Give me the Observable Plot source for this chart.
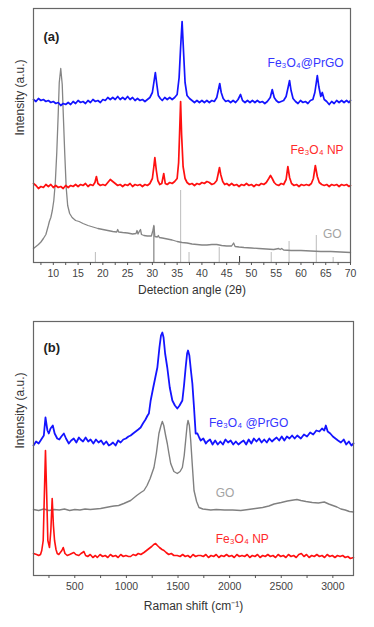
<!DOCTYPE html>
<html>
<head>
<meta charset="utf-8">
<script src="https://cdn.jsdelivr.net/npm/d3@7"></script>
<script src="https://cdn.jsdelivr.net/npm/@observablehq/plot@0.6"></script>
<style>
  html, body { margin: 0; padding: 0; background: #fff; }
  #wrap { position: relative; width: 374px; height: 627px; overflow: hidden; background: #fff; }
  #pa { position: absolute; left: 0; top: 0; }
  #pb { position: absolute; left: 0; top: 300px; }
</style>
</head>
<body>
<div id="wrap"><div id="pa"></div><div id="pb"></div></div>
<script>
// ---------- Panel (a): XRD, [2θ, intensity a.u.] ----------
const xrdPrGO = [
  [6.0,163],[6.5,161],[7.0,164],[7.5,162],[8.0,163],[8.5,161],[9.0,162],[9.5,160],[10.0,161],[10.5,159],
  [11.0,160],[11.5,157],[12.0,159],[12.5,158],[13.0,160],[13.5,158],[14.0,161],[14.5,159],[15.0,162],[15.5,160],
  [16.0,161],[16.5,159],[17.0,162],[17.5,160],[18.0,163],[18.5,161],[19.0,162],[19.5,160],[20.0,163],[20.5,162],
  [21.0,165],[21.5,163],[22.0,165],[22.5,163],[23.0,166],[23.5,163],[24.0,165],[24.5,163],[25.0,166],[25.5,163],
  [26.0,165],[26.5,162],[27.0,164],[27.5,162],[28.0,163],[28.5,161],[29.0,163],[29.5,165],[30.0,170],[30.3,180],
  [30.6,190],[30.9,178],[31.2,167],[31.6,164],[32.0,162],[32.5,165],[33.0,163],[33.5,165],[34.0,163],[34.5,165],
  [35.0,168],[35.4,185],[35.7,215],[36.0,241],[36.3,210],[36.6,180],[37.0,167],[37.5,164],[38.0,162],[38.5,160],
  [39.0,162],[39.5,160],[40.0,162],[40.5,160],[41.0,162],[41.5,160],[42.0,162],[42.5,161],[43.0,165],[43.3,172],
  [43.6,179],[43.9,170],[44.3,164],[44.8,161],[45.3,162],[45.8,160],[46.3,162],[46.8,160],[47.3,163],[47.8,168],
  [48.2,162],[48.7,160],[49.2,162],[49.7,160],[50.2,162],[50.7,160],[51.2,162],[51.7,160],[52.2,161],[52.7,159],
  [53.2,161],[53.8,165],[54.2,173],[54.6,165],[55.0,162],[55.5,160],[56.0,161],[56.5,162],[57.0,166],[57.4,175],
  [57.7,182],[58.0,172],[58.4,164],[58.9,161],[59.4,159],[59.9,162],[60.4,160],[60.9,161],[61.4,159],[61.9,162],
  [62.4,163],[62.8,170],[63.1,180],[63.3,187],[63.6,176],[64.0,166],[64.3,170],[64.7,163],[65.2,161],[65.7,158],
  [66.2,161],[66.7,159],[67.2,162],[67.7,160],[68.2,162],[68.7,160],[69.2,162],[69.7,160],[70.0,162]
];
const xrdNP = [
  [6.0,79],[6.5,77],[7.0,74],[7.5,76],[8.0,75],[8.5,78],[9.0,76],[9.5,78],[10.0,75],[10.5,77],
  [11.0,75],[11.5,76],[12.0,74],[12.5,77],[13.0,75],[13.5,77],[14.0,76],[14.5,78],[15.0,76],[15.5,78],
  [16.0,77],[16.5,79],[17.0,76],[17.5,78],[18.0,77],[18.4,80],[18.7,86],[19.0,79],[19.5,77],[20.0,78],
  [20.5,77],[21.0,80],[21.5,83],[22.0,81],[22.5,79],[23.0,77],[23.5,78],[24.0,76],[24.5,78],[25.0,77],
  [25.5,79],[26.0,76],[26.5,78],[27.0,77],[27.5,78],[28.0,76],[28.5,78],[29.0,77],[29.5,79],[30.0,84],
  [30.3,96],[30.5,105],[30.8,92],[31.1,82],[31.5,78],[31.9,79],[32.3,89],[32.6,79],[33.0,78],[33.5,80],
  [34.0,79],[34.5,81],[35.0,84],[35.3,100],[35.5,130],[35.7,161],[35.9,128],[36.2,96],[36.6,84],[37.0,80],
  [37.5,78],[38.0,79],[38.5,77],[39.0,79],[39.5,78],[40.0,80],[40.5,79],[41.0,81],[41.5,80],[42.0,78],
  [42.5,79],[43.0,82],[43.3,89],[43.55,95],[43.8,88],[44.2,81],[44.6,78],[45.0,79],[45.5,77],[46.0,79],
  [46.5,77],[47.0,78],[47.5,76],[48.0,78],[48.5,77],[49.0,79],[49.5,77],[50.0,78],[50.5,76],[51.0,78],
  [51.5,77],[52.0,79],[52.5,78],[53.0,80],[53.5,84],[53.85,87],[54.2,84],[54.6,80],[55.0,78],[55.5,77],
  [56.0,79],[56.5,78],[57.0,83],[57.35,96],[57.7,85],[58.1,79],[58.6,77],[59.1,78],[59.6,76],[60.1,78],
  [60.6,77],[61.1,78],[61.6,77],[62.1,79],[62.5,84],[62.9,97],[63.3,86],[63.7,80],[64.2,78],[64.7,77],
  [65.2,78],[65.7,76],[66.2,78],[66.7,77],[67.2,78],[67.7,76],[68.2,78],[68.7,77],[69.2,78],[69.7,76],[70.0,77]
];
const xrdGO = [
  [6.0,14],[6.5,16],[7.0,18],[7.5,20.5],[8.0,24],[8.5,28],[9.0,37],[9.2,41],[9.5,45],[9.8,52],
  [10.1,62],[10.4,80],[10.7,110],[11.0,150],[11.2,180],[11.5,194],[11.8,178],[12.0,150],[12.3,110],[12.6,75],
  [12.9,57],[13.3,49],[13.8,45],[14.5,42],[15.2,41],[16.0,39],[17.0,37],[18.0,35.5],[19.0,34],[20.0,33],
  [21.0,32],[22.0,31],[22.8,30.5],[23.0,33],[23.2,30.5],[24.0,30],[25.0,29.5],[26.0,28.5],[26.7,29],[26.9,32],
  [27.1,28.5],[27.4,31.5],[27.6,33],[27.8,28],[28.3,27],[29.0,26.5],[29.8,26.5],[30.1,32],[30.3,37],[30.5,26],
  [31.0,25.5],[31.2,27],[31.4,25],[32.0,24.5],[33.0,23.5],[34.0,22.5],[35.0,21],[36.0,20],[37.0,19.5],[38.0,18.5],
  [39.0,18],[40.0,17.5],[41.0,17.5],[42.0,18],[43.0,18],[44.0,17],[45.0,16.5],[46.0,16.5],[46.4,19.5],[46.7,16],
  [47.5,15.5],[48.5,15],[50.0,14.5],[51.5,14],[53.0,13.5],[54.5,13],[55.5,14],[55.8,13],[56.1,14],[56.5,12.5],
  [58.0,12],[60.0,12],[62.0,11.5],[64.0,11],[66.0,11],[68.0,10.5],[70.0,10]
];
// reference pattern lines [2θ, relative height]
const xrdSticks = [[18.5,10],[30.3,36],[35.7,72],[37.4,10],[43.5,15],[47.6,6],[54.0,10],[57.6,21],[63.1,27],[66.5,5]];
const xrdTicks = [7.5,10,12.5,15,17.5,20,22.5,25,27.5,30,32.5,35,37.5,40,42.5,45,47.5,50,52.5,55,57.5,60,62.5,65,67.5,70];
const xrdLabels = [
  {x: 68.6, y: 199, text: "Fe₃O₄@PrGO", series: "PrGO"},
  {x: 68.6, y: 112, text: "Fe₃O₄ NP", series: "NP"},
  {x: 68.2, y: 28, text: "GO", series: "GO"}
];

// ---------- Panel (b): Raman, [shift cm-1, intensity a.u.] ----------
const ramanPrGO = [
  [100,130],[125,134],[150,132],[175,136],[200,140],[216,158],[235,145],[248,142],[265,147],[287,150],
  [305,142],[330,137],[350,136],[370,139],[394,142],[415,137],[442,132],[465,135],[490,137],[515,133],
  [540,138],[556,136],[580,134],[605,138],[630,134],[653,136],[680,132],[705,136],[730,133],[755,135],
  [780,131],[805,134],[830,130],[847,131],[870,133],[895,130],[920,135],[944,133],[970,136],[995,137],
  [1020,139],[1041,140],[1065,142],[1090,144],[1115,146],[1138,148],[1160,152],[1185,156],[1205,160],[1218,162],
  [1235,175],[1260,188],[1280,198],[1300,208],[1320,228],[1335,240],[1348,243],[1360,238],[1375,222],[1396,208],
  [1420,188],[1445,175],[1470,170],[1493,167],[1515,170],[1542,175],[1558,190],[1574,208],[1588,222],[1597,225],
  [1610,220],[1625,205],[1639,192],[1655,168],[1671,142],[1688,142],[1705,138],[1720,135],[1745,137],[1770,132],
  [1785,134],[1810,136],[1835,131],[1860,135],[1885,131],[1910,134],[1935,131],[1960,136],[1985,133],[2010,135],
  [2035,131],[2060,134],[2085,131],[2108,133],[2135,135],[2160,131],[2185,136],[2210,132],[2235,137],[2260,134],
  [2285,137],[2310,133],[2335,136],[2360,133],[2385,137],[2410,134],[2431,136],[2455,138],[2480,135],[2505,139],
  [2530,135],[2555,139],[2580,137],[2605,140],[2630,137],[2655,140],[2690,137],[2720,141],[2750,139],[2780,143],
  [2810,141],[2840,145],[2870,144],[2895,147],[2917,145],[2932,150],[2950,144],[2975,142],[3000,139],[3025,137],
  [3050,135],[3078,133],[3105,136],[3130,131],[3155,134],[3180,130],[3200,132]
];
const ramanGO = [
  [100,66],[150,65],[200,66.5],[250,65],[300,66],[350,65.5],[400,66.5],[450,65],[500,66],[550,65.5],
  [600,66.5],[650,66],[700,66.5],[750,67],[800,68],[850,69],[879,69.5],[925,70],[975,72],[1041,75],
  [1100,80],[1140,83],[1170,85],[1200,90],[1230,97],[1267,108],[1290,122],[1315,142],[1335,150],[1348,154],
  [1362,150],[1380,140],[1396,132],[1412,122],[1429,112],[1460,104],[1493,102],[1520,104],[1542,108],[1560,120],
  [1574,135],[1588,150],[1597,155],[1610,150],[1623,135],[1640,108],[1655,85],[1680,74],[1703,68],[1740,66.5],
  [1780,66],[1817,65.5],[1870,66],[1950,65.5],[2030,65.5],[2108,65],[2180,66],[2250,67],[2320,68],[2380,69.5],
  [2431,71.5],[2500,73],[2560,74.5],[2620,75.5],[2652,76],[2690,75],[2740,74],[2800,73],[2860,72.5],[2917,73.5],
  [2960,71.5],[3000,70],[3040,68.5],[3078,66.5],[3120,65.5],[3160,64],[3200,63.5]
];
const ramanNP = [
  [100,22],[130,21],[150,20],[168,21],[180,25],[194,35],[205,80],[216,125],[228,80],[239,35],
  [255,28],[268,45],[281,77],[293,50],[304,35],[318,26],[330,22],[345,21],[360,23],[375,25],
  [388,28],[405,22],[427,20],[450,21],[470,22],[491,23],[510,21],[539,20],[560,22],[575,23],
  [588,24],[605,20],[625,19],[650,21],[675,18],[700,20],[718,18],[745,21],[770,19],[795,20],
  [820,18],[845,21],[870,19],[895,20],[920,18],[945,21],[970,19],[995,20],[1020,19],[1041,19],
  [1065,21],[1090,20],[1115,22],[1140,21],[1170,23],[1195,25],[1220,27],[1245,29],[1265,31],[1283,32],
  [1300,30],[1320,28],[1345,26],[1364,25],[1385,23],[1410,21],[1435,22],[1460,20],[1493,20],[1520,19],
  [1545,21],[1570,19],[1595,20],[1620,18],[1645,21],[1670,19],[1695,20],[1720,20],[1745,19],[1770,21],
  [1795,18],[1820,20],[1845,19],[1870,21],[1895,18],[1920,20],[1945,19],[1970,21],[1995,19],[2020,20],
  [2045,18],[2070,21],[2095,19],[2120,20],[2145,19],[2170,21],[2195,18],[2220,20],[2245,19],[2270,21],
  [2295,18],[2320,20],[2345,19],[2370,21],[2395,19],[2420,20],[2445,18],[2470,21],[2495,19],[2520,20],
  [2545,18],[2570,21],[2595,19],[2620,20],[2645,18],[2670,21],[2695,22],[2720,19],[2745,21],[2770,18],
  [2795,20],[2820,19],[2845,21],[2870,19],[2895,20],[2920,18],[2945,21],[2970,19],[2995,20],[3020,18],
  [3045,20],[3070,19],[3095,20],[3120,18],[3145,19],[3170,17],[3200,18]
];
const ramanTicks = [250,500,750,1000,1250,1500,1750,2000,2250,2500,2750,3000];
const ramanLabels = [
  {x: 1800, y: 152, text: "Fe₃O₄ @PrGO", series: "PrGO"},
  {x: 1865, y: 82, text: "GO", series: "GO"},
  {x: 1865, y: 36, text: "Fe₃O₄ NP", series: "NP"}
];

// ---------- styles ----------
const FONT = "'Liberation Sans', Arial, Helvetica, sans-serif";
const lineColor = {PrGO: "#1414ff", NP: "#ff1010", GO: "#858585"};
const textColor = {PrGO: "#3535ff", NP: "#ff2a2a", GO: "#a3a3a3"};
const X = d => d[0], Y = d => d[1];

const pa = Plot.plot({
  width: 374, height: 300,
  marginTop: 8, marginBottom: 38, marginLeft: 33, marginRight: 24,
  x: {domain: [6, 70]},
  y: {domain: [0, 254], axis: null},
  style: {fontFamily: FONT, fontSize: "10.5px", color: "#444", background: "transparent"},
  marks: [
    Plot.ruleX(xrdSticks, {x: X, y1: 0, y2: Y, stroke: d => (d[0] === 47.6 ? "#444" : d[0] === 30.3 ? "#777" : "#c2c2c2"), strokeWidth: 1.1}),
    Plot.line(xrdGO, {x: X, y: Y, stroke: lineColor.GO, strokeWidth: 1.3}),
    Plot.line(xrdNP, {x: X, y: Y, stroke: lineColor.NP, strokeWidth: 1.7}),
    Plot.line(xrdPrGO, {x: X, y: Y, stroke: lineColor.PrGO, strokeWidth: 1.7}),
    Plot.frame({stroke: "#666", strokeWidth: 1.2}),
    Plot.axisX({ticks: xrdTicks, tickSize: 3, tickPadding: 4, tickFormat: d => (d % 5 === 0 ? String(d) : ""), label: null, stroke: "#555"}),
    Plot.text(["Detection angle (2θ)"], {frameAnchor: "bottom", dy: 31, fontSize: 12, fill: "#333"}),
    Plot.text(["Intensity (a.u.)"], {frameAnchor: "left", rotate: -90, dx: -13, fontSize: 12, fill: "#333"}),
    Plot.text(["(a)"], {frameAnchor: "top-left", dx: 10, dy: 23, fontSize: 13, fontWeight: "bold", fill: "#222", textAnchor: "start"}),
    Plot.text(xrdLabels, {x: "x", y: "y", text: "text", fill: d => textColor[d.series], fontSize: 12, textAnchor: "end"})
  ]
});
document.getElementById("pa").append(pa);

const pb = Plot.plot({
  width: 374, height: 327,
  marginTop: 21, marginBottom: 52, marginLeft: 33, marginRight: 21,
  x: {domain: [100, 3200]},
  y: {domain: [0, 254], axis: null},
  style: {fontFamily: FONT, fontSize: "10.5px", color: "#444", background: "transparent"},
  marks: [
    Plot.line(ramanGO, {x: X, y: Y, stroke: "#808080", strokeWidth: 1.4}),
    Plot.line(ramanNP, {x: X, y: Y, stroke: lineColor.NP, strokeWidth: 1.6}),
    Plot.line(ramanPrGO, {x: X, y: Y, stroke: lineColor.PrGO, strokeWidth: 1.8}),
    Plot.frame({stroke: "#666", strokeWidth: 1.2}),
    Plot.axisX({ticks: ramanTicks, tickSize: 3, tickPadding: 4, tickFormat: d => (d % 500 === 0 ? String(d) : ""), label: null, stroke: "#555"}),
    Plot.text(["Raman shift (cm⁻¹)"], {frameAnchor: "bottom", dy: 34, fontSize: 12, fill: "#333"}),
    Plot.text(["Intensity (a.u.)"], {frameAnchor: "left", rotate: -90, dx: -13, fontSize: 12, fill: "#333"}),
    Plot.text(["(b)"], {frameAnchor: "top-left", dx: 10, dy: 21, fontSize: 13, fontWeight: "bold", fill: "#222", textAnchor: "start"}),
    Plot.text(ramanLabels, {x: "x", y: "y", text: "text", fill: d => textColor[d.series], fontSize: 12, textAnchor: "start"})
  ]
});
document.getElementById("pb").append(pb);
</script>
</body>
</html>
